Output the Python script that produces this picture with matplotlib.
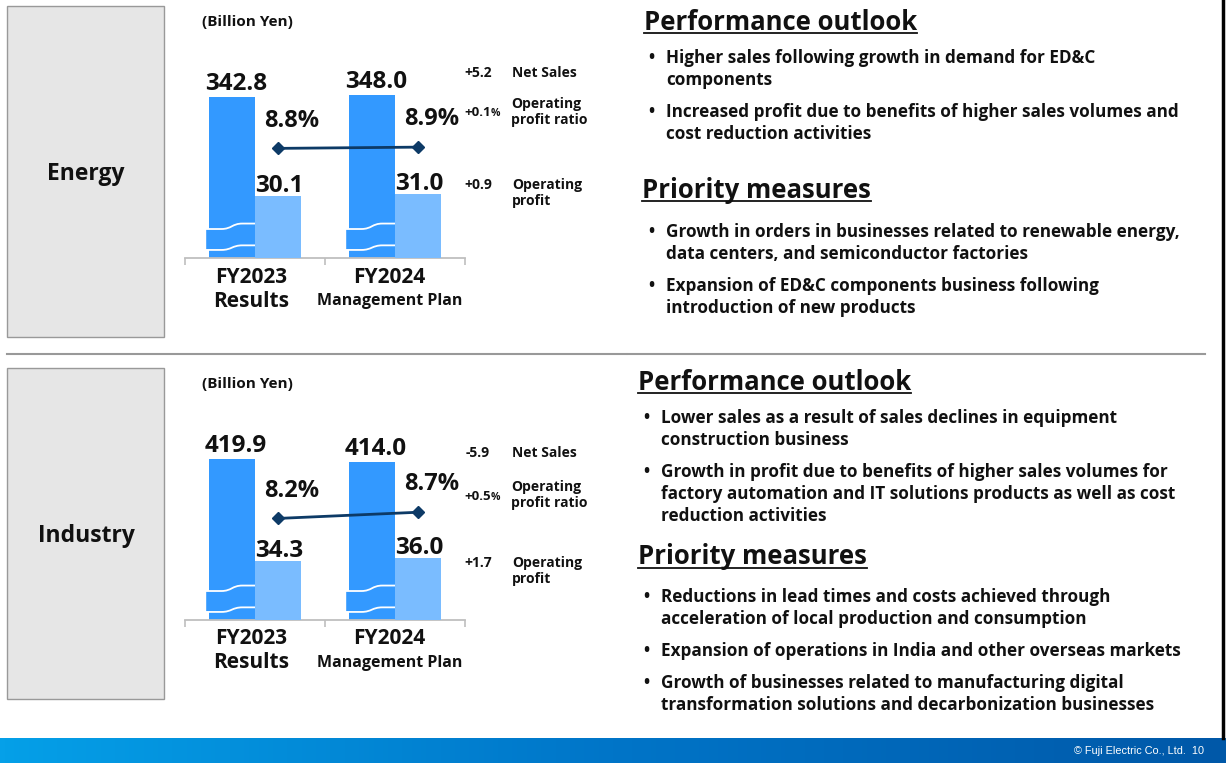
import matplotlib as mpl
mpl.use('Agg')
import matplotlib.pyplot as plt
from matplotlib.colors import LinearSegmentedColormap
from matplotlib.patches import Rectangle, PathPatch
from matplotlib.path import Path
import matplotlib.transforms as mtransforms
import numpy as np

plt.rcParams['font.family'] = ['Open Sans', 'DejaVu Sans']

# ---- data ----
segments = ["Energy", "Industry"]
years = ["FY2023", "FY2024"]
year_sub = ["Results", "Management Plan"]

energy_sales = [342.8, 348.0]
energy_profit = [30.1, 31.0]
energy_ratio = [8.8, 8.9]

industry_sales = [419.9, 414.0]
industry_profit = [34.3, 36.0]
industry_ratio = [8.2, 8.7]

energy_outlook = [
    ["Higher sales following growth in demand for ED&C", "components"],
    ["Increased profit due to benefits of higher sales volumes and", "cost reduction activities"],
]
energy_measures = [
    ["Growth in orders in businesses related to renewable energy,", "data centers, and semiconductor factories"],
    ["Expansion of ED&C components business following", "introduction of new products"],
]
industry_outlook = [
    ["Lower sales as a result of sales declines in equipment", "construction business"],
    ["Growth in profit due to benefits of higher sales volumes for",
     "factory automation and IT solutions products as well as cost", "reduction activities"],
]
industry_measures = [
    ["Reductions in lead times and costs achieved through", "acceleration of local production and consumption"],
    ["Expansion of operations in India and other overseas markets"],
    ["Growth of businesses related to manufacturing digital",
     "transformation solutions and decarbonization businesses"],
]

SALES_C = '#3399ff'
PROFIT_C = '#7abcff'
LINE_C = '#0d3a66'
TXT = '#111111'

W, H = 1226, 763
fig = plt.figure(figsize=(W / 100, H / 100), dpi=100)
bg = fig.add_axes([0, 0, 1, 1])
bg.set_xlim(0, W)
bg.set_ylim(H, 0)
bg.axis('off')

# footer band
cmap = LinearSegmentedColormap.from_list('foot', ['#05a0e8', '#0075c8', '#0058a8'])
bg.imshow(np.linspace(0, 1, 256)[None, :], cmap=cmap, aspect='auto',
          extent=[0, W, 763, 738], zorder=0)
bg.text(1204, 751, "\u00a9 Fuji Electric Co., Ltd.  10", color='white', fontsize=7.8,
        family='Liberation Sans', ha='right', va='center')
bg.plot([1223, 1223], [0, 738], color='black', lw=2.5)
bg.plot([7, 626], [353.5, 353.5], color='#999999', lw=1.5)
bg.plot([628, 1205], [353.5, 353.5], color='#999999', lw=1.5)


def px_axes(x0, y_base, w, h):
    return fig.add_axes([x0 / W, (H - y_base) / H, w / W, h / H])


def underline_title(x, y, s):
    t = bg.text(x, y, s, fontsize=18.5, fontweight='bold', color=TXT, ha='left', va='center')
    fig.canvas.draw()
    bb = t.get_window_extent().transformed(bg.transData.inverted())
    yb = max(bb.y0, bb.y1) - 3
    bg.plot([min(bb.x0, bb.x1), max(bb.x0, bb.x1)], [yb, yb], color=TXT, lw=1.3)


def bullets(x, y, groups, gap_line=22, gap_item=32):
    for g in groups:
        bg.text(x, y, "\u2022", fontsize=12, fontweight='bold', color=TXT, ha='left', va='center')
        for line in g:
            bg.text(x + 18, y, line, fontsize=12.3, fontweight='bold', color=TXT,
                    ha='left', va='center')
            y += gap_line
        y += gap_item - gap_line


def break_mark(ax, xl, xr):
    tr = mtransforms.blended_transform_factory(ax.transData, ax.transAxes)
    xm = (xl + xr) / 2
    d = (xr - xl) * 0.2
    bl, br, tl, trr = 0.037, 0.058, 0.133, 0.158
    verts = [(xl, tl), (xm - d, tl), (xm, tl), (xm, trr), (xm + d, trr), (xr, trr),
             (xr, br), (xm + d, br), (xm, br), (xm, bl), (xm - d, bl), (xl, bl), (xl, tl)]
    codes = [Path.MOVETO, Path.LINETO, Path.CURVE4, Path.CURVE4, Path.CURVE4, Path.LINETO,
             Path.LINETO, Path.LINETO, Path.CURVE4, Path.CURVE4, Path.CURVE4, Path.LINETO,
             Path.CLOSEPOLY]
    ax.add_patch(PathPatch(Path(verts, codes), transform=tr, facecolor=SALES_C,
                           edgecolor='white', lw=1.3, zorder=5, clip_on=False))


def panel(top, name, sales, profit, ratio, lims, deltas_pos):
    base = top + 252
    # left label box
    bg.add_patch(Rectangle((7, top), 157, 331, facecolor='#e6e6e6', edgecolor='#999999', lw=1))
    bg.text(86, top + 168, name, fontsize=16.5, fontweight='bold', color=TXT, ha='center', va='center')
    bg.text(202, top + 16, "(Billion Yen)", fontsize=11, fontweight='bold', color=TXT,
            ha='left', va='center')

    ax = px_axes(185, base, 280, 218)
    ax2 = ax.twinx()
    ax3 = ax.twinx()
    for a in (ax2, ax3):
        a.set_axis_off()
    ax.patch.set_alpha(0)
    x = np.arange(len(sales))
    bw = 0.33
    ax.bar(x + 0.5 - bw, sales, width=bw, align='edge', color=SALES_C, zorder=2)
    ax2.bar(x + 0.5, profit, width=bw, align='edge', color=PROFIT_C, zorder=2)
    ax3.plot(x + 0.5 + bw / 2, ratio, color=LINE_C, lw=2, marker='D', markersize=6.5, zorder=6)
    ax.set_xlim(0, 2)
    ax.set_ylim(0, lims[0])
    ax2.set_ylim(0, lims[1])
    ax3.set_ylim(0, lims[2])
    for s in ('top', 'left', 'right'):
        ax.spines[s].set_visible(False)
    ax.spines['bottom'].set_color('#bfbfbf')
    ax.spines['bottom'].set_linewidth(1.3)
    ax.set_yticks([])
    ax.set_xticks([0, 1, 2])
    ax.set_xticklabels([])
    ax.tick_params(axis='x', length=5, color='#bfbfbf', width=1.2)

    trx = mtransforms.blended_transform_factory(ax.transData, ax.transAxes)
    for i in range(len(sales)):
        break_mark(ax, i + 0.5 - bw - 0.025, i + 0.5 + 0.025)
        ax.annotate(f"{sales[i]:.1f}", (i + 0.5 - bw / 2, sales[i]), xytext=(3, 5),
                    textcoords='offset points', ha='center', va='baseline', fontsize=17.5,
                    fontweight='bold', color=TXT, annotation_clip=False)
        ax2.annotate(f"{profit[i]:.1f}", (i + 0.5 + bw / 2, profit[i]), xytext=(1, 3),
                     textcoords='offset points', ha='center', va='baseline', fontsize=17.5,
                     fontweight='bold', color=TXT, annotation_clip=False)
        ax3.annotate(f"{ratio[i]:.1f}%", (i + 0.5 + bw / 2, ratio[i]), xytext=(10, 20),
                     textcoords='offset points', ha='center', va='center', fontsize=17,
                     fontweight='bold', color=TXT, annotation_clip=False)
        xc = [0.47, 1.46][i]
        ax.text(xc, -19 / 218, years[i], transform=trx, ha='center', va='center',
                fontsize=15, fontweight='bold', color=TXT)
        ax.text(xc, -43 / 218, year_sub[i], transform=trx, ha='center', va='center',
                fontsize=[15, 11.5][i], fontweight='bold', color=TXT)

    # change annotations
    d_sales = sales[1] - sales[0]
    d_ratio = ratio[1] - ratio[0]
    d_profit = profit[1] - profit[0]
    ys = deltas_pos
    bg.text(478, ys[0], f"{d_sales:+.1f}", fontsize=10, fontweight='bold', color=TXT,
            ha='center', va='center')
    bg.text(512, ys[0], "Net Sales", fontsize=10, fontweight='bold', color=TXT,
            ha='left', va='center')
    bg.text(491, ys[1], f"{d_ratio:+.1f}", fontsize=9.5, fontweight='bold', color=TXT,
            ha='right', va='center')
    bg.text(491, ys[1] + 1, "%", fontsize=7.5, fontweight='bold', color=TXT,
            ha='left', va='center')
    bg.text(511, ys[1] - 1, "Operating\nprofit ratio", fontsize=10, fontweight='bold', color=TXT,
            ha='left', va='center', linespacing=1.2)
    bg.text(478, ys[2], f"{d_profit:+.1f}", fontsize=10, fontweight='bold', color=TXT,
            ha='center', va='center')
    bg.text(512, ys[2] + 8, "Operating\nprofit", fontsize=10, fontweight='bold', color=TXT,
            ha='left', va='center', linespacing=1.2)


panel(6, segments[0], energy_sales, energy_profit, energy_ratio, (465, 106, 17.5), (73, 113, 185))
panel(368, segments[1], industry_sales, industry_profit, industry_ratio, (570, 127, 17.6),
      (453, 496, 563))

underline_title(644, 22, "Performance outlook")
bullets(648, 58, energy_outlook)
underline_title(642, 190, "Priority measures")
bullets(648, 232, energy_measures)

underline_title(638, 382, "Performance outlook")
bullets(643, 418, industry_outlook)
underline_title(638, 557, "Priority measures")
bullets(643, 597, industry_measures, gap_item=32)

fig.savefig('out.png', dpi=100)
